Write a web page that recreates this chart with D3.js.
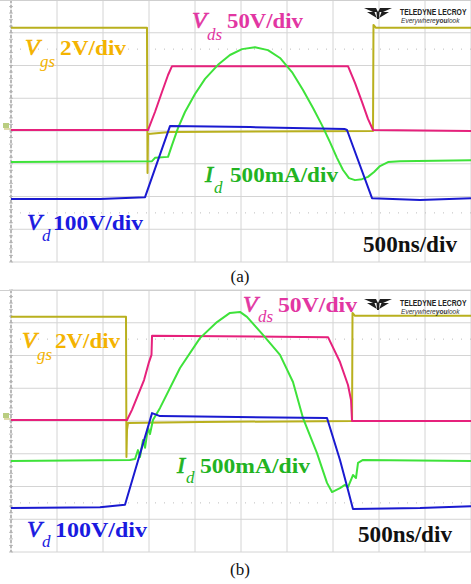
<!DOCTYPE html>
<html>
<head>
<meta charset="utf-8">
<script src="https://cdn.jsdelivr.net/npm/d3@7"></script>
<style>
  body { margin: 0; background: #fff; }
  svg { display: block; }
  .lbl { font-family: "Liberation Serif", "Times New Roman", serif; }
</style>
</head>
<body>
<svg id="scope" width="471" height="584"></svg>
<script>
// time axis: 10 div x 500 ns, values in ns ; vertical values in divisions (-4..4)

// ---- panel (a) ----
var vgsA_t = [0, 1478, 1484, 1489, 1728, 3935, 3940, 3967, 5000]
var vgsA_v = [3.15, 3.15, -1.28, -0.09, -0.03, 0.00, 3.24, 3.15, 3.15]

var vdsA_t = [0, 1489, 1565, 1641, 1707, 1750, 3663, 3739, 3815, 3880, 3935, 5000]
var vdsA_v = [0.03, 0.03, 0.58, 1.19, 1.71, 1.98, 1.98, 1.47, 0.89, 0.37, 0.03, 0.00]

var idA_t = [0, 1533, 1565, 1707, 1750, 1815, 1891, 2000, 2109, 2250, 2380, 2511, 2652, 2793, 2924, 3054, 3174, 3283, 3380, 3467, 3543, 3609, 3674, 3739, 3815, 3880, 3946, 4011, 4098, 4228, 5000]
var idA_v = [-0.95, -0.92, -0.82, -0.79, -0.43, 0.09, 0.58, 1.13, 1.59, 2.02, 2.32, 2.50, 2.56, 2.47, 2.23, 1.80, 1.25, 0.70, 0.18, -0.34, -0.82, -1.19, -1.44, -1.50, -1.47, -1.40, -1.25, -1.07, -0.95, -0.92, -0.89]

var vdA_t = [0, 967, 1457, 1728, 2598, 3630, 3652, 3924, 4446, 5000]
var vdA_v = [-2.08, -2.08, -2.02, 0.15, 0.12, 0.06, 0.03, -2.05, -2.11, -2.05]

// ---- panel (b) ----
var vgsB_t = [0, 1250, 1255, 1261, 1272, 2054, 3707, 3712, 3739, 5000]
var vgsB_v = [3.18, 3.18, -1.10, -0.27, -0.06, -0.03, 0.00, 3.30, 3.21, 3.21]

var vdsB_t = [0, 1261, 1315, 1380, 1446, 1500, 1527, 1533, 3446, 3576, 3663, 3696, 3707, 5000]
var vdsB_v = [0.03, 0.03, 0.34, 0.79, 1.25, 1.80, 2.02, 2.60, 2.56, 1.80, 1.10, 0.64, 0.00, 0.00]

var idB_t = [0, 1293, 1348, 1380, 1402, 1435, 1457, 1489, 1511, 1543, 1620, 1837, 2054, 2239, 2380, 2489, 2565, 2739, 2924, 3065, 3174, 3326, 3435, 3489, 3576, 3630, 3663, 3717, 3750, 3772, 3826, 5000]
var idB_v = [-1.22, -1.19, -1.16, -0.89, -1.10, -0.58, -0.82, -0.21, -0.40, 0.03, 0.40, 1.62, 2.53, 3.02, 3.30, 3.33, 3.18, 2.63, 2.02, 1.19, 0.09, -0.98, -1.89, -2.17, -2.05, -1.95, -2.02, -1.65, -1.74, -1.28, -1.19, -1.22]

var vdB_t = [0, 967, 1239, 1511, 1533, 1620, 3435, 3576, 3663, 3717, 4446, 5000]
var vdB_v = [-2.66, -2.63, -2.56, 0.03, 0.24, 0.15, 0.09, -1.19, -2.11, -2.69, -2.66, -2.60]

// labels
var chLabels = ["V", "V", "I", "V"]
var chSubs = ["gs", "ds", "d", "d"]
var chScales = ["2V/div", "50V/div", "500mA/div", "100V/div"]
var timeLabel = "500ns/div"
var captions = ["(a)", "(b)"]

var traceColors = ["#b9b01e", "#e6217c", "#3ee23a", "#1a1ad0"]
var labelColors = ["#f4b300", "#e236a2", "#22b322", "#1a1ae0"]

var svg = d3.select("#scope")

function zip(ts, vs) { return ts.map(function(t, i) { return [t, vs[i]] }) }

var panels = [
    {
        top: 0, bottom: 262,
        traces: [zip(vgsA_t, vgsA_v), zip(vdsA_t, vdsA_v), zip(idA_t, idA_v), zip(vdA_t, vdA_v)],
        // [x of big letter, baseline, sub x, sub baseline, scale x, scale width]
        lab: [[25, 55, 40, 67, 60, 66], [192, 28, 207, 40, 227, 76], [205, 182, 214, 193, 230, 108], [27, 230, 42, 241, 53, 90]],
        time: [363, 252, 94], cap: 282, gnd: 126, logoY: 7
    },
    {
        top: 290, bottom: 552,
        traces: [zip(vgsB_t, vgsB_v), zip(vdsB_t, vdsB_v), zip(idB_t, idB_v), zip(vdB_t, vdB_v)],
        lab: [[22, 348, 37, 360, 55, 65], [243, 312, 258, 322, 278, 79], [177, 473, 186, 483, 200, 110], [27, 537, 42, 547, 55, 92]],
        time: [358, 542, 94], cap: 575, gnd: 416, logoY: 298
    }
]

var xScale = d3.scaleLinear().domain([0, 5000]).range([11, 471])

panels.forEach(function(p, pi) {
    var yScale = d3.scaleLinear().domain([-4, 4]).range([p.bottom, p.top])
    var g = svg.append("g")

    // grid
    g.selectAll(".vgrid").data(d3.range(0, 5001, 500)).join("line")
        .attr("x1", function(d) { return xScale(d) }).attr("x2", function(d) { return xScale(d) })
        .attr("y1", p.top).attr("y2", p.bottom)
        .attr("stroke", "#d4d4d4").attr("stroke-width", 1)
    g.selectAll(".hgrid").data(d3.range(-4, 5, 1)).join("line")
        .attr("x1", 11).attr("x2", 471)
        .attr("y1", function(d) { return yScale(d) }).attr("y2", function(d) { return yScale(d) })
        .attr("stroke", "#d4d4d4").attr("stroke-width", 1)
    g.selectAll(".dgrid").data([-2.5, 2.5]).join("line")
        .attr("x1", 11).attr("x2", 471)
        .attr("y1", function(d) { return yScale(d) }).attr("y2", function(d) { return yScale(d) })
        .attr("stroke", "#bdbdbd").attr("stroke-width", 1).attr("stroke-dasharray", "1,8")

    // left edge with minor ticks
    g.append("line").attr("x1", 11).attr("x2", 11).attr("y1", p.top).attr("y2", p.bottom)
        .attr("stroke", "#9a9a9a").attr("stroke-width", 1.2).attr("stroke-dasharray", "3,2")
    g.selectAll(".tick").data(d3.range(-4, 4.01, 0.2)).join("line")
        .attr("x1", 9).attr("x2", 13)
        .attr("y1", function(d) { return yScale(d) }).attr("y2", function(d) { return yScale(d) })
        .attr("stroke", "#b0b0b0").attr("stroke-width", 0.8)

    // ground marker
    g.append("rect").attr("x", 3).attr("y", p.gnd - 3).attr("width", 6).attr("height", 5)
        .attr("fill", "#a8c060").attr("opacity", 0.8)
    g.append("line").attr("x1", 4).attr("x2", 11).attr("y1", p.gnd + 3).attr("y2", p.gnd + 3)
        .attr("stroke", "#c8c070").attr("stroke-width", 1.2)

    // traces
    var line = d3.line()
        .x(function(d) { return xScale(d[0]) })
        .y(function(d) { return yScale(d[1]) })
    p.traces.forEach(function(tr, i) {
        g.append("path").datum(tr)
            .attr("fill", "none")
            .attr("stroke", traceColors[i])
            .attr("stroke-width", 2)
            .attr("stroke-linejoin", "round")
            .attr("d", line)
    })

    // channel labels
    p.lab.forEach(function(l, i) {
        g.append("text").attr("class", "lbl")
            .attr("x", l[0]).attr("y", l[1])
            .attr("font-size", 24).attr("font-style", "italic")
            .attr("stroke", labelColors[i]).attr("stroke-width", 0.7)
            .attr("fill", labelColors[i]).text(chLabels[i])
        g.append("text").attr("class", "lbl")
            .attr("x", l[2]).attr("y", l[3])
            .attr("font-size", 17).attr("font-style", "italic")
            .attr("fill", labelColors[i]).text(chSubs[i])
        g.append("text").attr("class", "lbl")
            .attr("x", l[4]).attr("y", l[1])
            .attr("font-size", 22).attr("font-weight", "bold")
            .attr("textLength", l[5]).attr("lengthAdjust", "spacingAndGlyphs")
            .attr("fill", labelColors[i]).text(chScales[i])
    })

    g.append("text").attr("class", "lbl")
        .attr("x", p.time[0]).attr("y", p.time[1])
        .attr("font-size", 23).attr("font-weight", "bold")
        .attr("textLength", p.time[2]).attr("lengthAdjust", "spacingAndGlyphs")
        .attr("fill", "#111").text(timeLabel)

    // logo
    var lg = g.append("g").attr("transform", "translate(364," + p.logoY + ")")
    lg.append("path")
        .attr("d", "M0,1 L12,1 L14,5 L16,1 L28,1 L19,5 L15.5,5 L15,12 L13,12 L12.5,5 L9,5 Z")
        .attr("fill", "#1e1e1e")
    lg.append("path").attr("d", "M3,5 L10.5,5 L12.8,11 Z").attr("fill", "#1e1e1e")
    lg.append("path").attr("d", "M25,5 L17.5,5 L15.2,11 Z").attr("fill", "#1e1e1e")
    lg.append("text").attr("transform", "translate(36,8) scale(0.8,1)")
        .attr("font-family", "'Liberation Sans', Arial, sans-serif").attr("font-size", 8.5)
        .attr("font-weight", "bold").attr("fill", "#222")
        .text("TELEDYNE LECROY")
    var ev = lg.append("text").attr("transform", "translate(37,15.5) scale(0.88,1)")
        .attr("font-family", "'Liberation Sans', Arial, sans-serif").attr("font-size", 7.5)
        .attr("font-style", "italic").attr("fill", "#333")
    ev.append("tspan").text("Everywhere")
    ev.append("tspan").attr("font-weight", "bold").text("you")
    ev.append("tspan").text("look")

    // panel border
    g.append("line").attr("x1", 0).attr("x2", 471).attr("y1", p.top + 0.5).attr("y2", p.top + 0.5)
        .attr("stroke", "#cfcfcf")

    // caption
    g.append("text").attr("class", "lbl")
        .attr("x", 240).attr("y", p.cap).attr("text-anchor", "middle")
        .attr("font-size", 17).attr("fill", "#111").text(captions[pi])
})
</script>
</body>
</html>
